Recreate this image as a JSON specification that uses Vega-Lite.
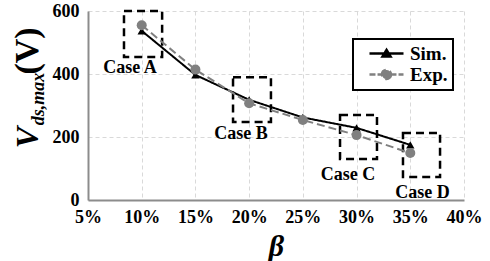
{
  "$schema": "https://vega.github.io/schema/vega-lite/v6.json",
  "width": 376,
  "height": 189,
  "autosize": {"type": "none"},
  "padding": {"left": 88, "top": 11, "right": 26, "bottom": 61},
  "background": "white",
  "config": {
    "view": {"stroke": null},
    "axis": {
      "labelFont": "Liberation Serif",
      "labelFontWeight": "bold",
      "labelFontSize": 18,
      "labelColor": "black",
      "labelOverlap": false,
      "labelFlush": false,
      "grid": true,
      "gridDash": [4, 3],
      "gridColor": "#d9d9d9",
      "gridWidth": 1,
      "domainColor": "#8c8c8c",
      "domainWidth": 2,
      "ticks": false
    }
  },
  "datasets": {
    "series": [
      {"beta": 10, "v": 537, "type": "Sim."},
      {"beta": 15, "v": 397, "type": "Sim."},
      {"beta": 20, "v": 318, "type": "Sim."},
      {"beta": 25, "v": 262, "type": "Sim."},
      {"beta": 30, "v": 229, "type": "Sim."},
      {"beta": 35, "v": 175, "type": "Sim."},
      {"beta": 10, "v": 555, "type": "Exp."},
      {"beta": 15, "v": 414, "type": "Exp."},
      {"beta": 20, "v": 307, "type": "Exp."},
      {"beta": 25, "v": 254, "type": "Exp."},
      {"beta": 30, "v": 206, "type": "Exp."},
      {"beta": 35, "v": 149, "type": "Exp."}
    ],
    "cases": [
      {"case": "Case A", "x1": 8.35, "x2": 11.9, "y1": 454, "y2": 600, "lx": 8.9, "ly": 419},
      {"case": "Case B", "x1": 18.5, "x2": 22.03, "y1": 248, "y2": 390, "lx": 19.24, "ly": 210},
      {"case": "Case C", "x1": 28.46, "x2": 31.9, "y1": 130, "y2": 270, "lx": 29.2, "ly": 79},
      {"case": "Case D", "x1": 34.32, "x2": 37.77, "y1": 73, "y2": 213, "lx": 36.14, "ly": 22}
    ],
    "one": [{}]
  },
  "layer": [
    {
      "data": {"name": "cases"},
      "mark": {"type": "rect", "filled": false, "stroke": "black", "strokeWidth": 2.5, "strokeDash": [8, 5]},
      "encoding": {
        "x": {"field": "x1", "type": "quantitative", "scale": {"domain": [5, 40], "nice": false},
          "axis": {"values": [5, 10, 15, 20, 25, 30, 35, 40], "labelExpr": "datum.value + '%'", "labelPadding": 8,
            "title": "β", "titleFont": "Liberation Serif", "titleFontStyle": "italic", "titleFontWeight": "bold", "titleFontSize": 30, "titleColor": "black", "titlePadding": 5}},
        "x2": {"field": "x2"},
        "y": {"field": "y1", "type": "quantitative", "scale": {"domain": [0, 600], "nice": false},
          "axis": {"values": [0, 200, 400, 600], "labelPadding": 9, "title": null}},
        "y2": {"field": "y2"}
      }
    },
    {
      "data": {"name": "series"},
      "mark": {"type": "line", "strokeWidth": 2},
      "encoding": {
        "x": {"field": "beta", "type": "quantitative"},
        "y": {"field": "v", "type": "quantitative"},
        "color": {"field": "type", "type": "nominal",
          "scale": {"domain": ["Sim.", "Exp."], "range": ["black", "#808080"]},
          "legend": {
            "orient": "none", "legendX": 265, "legendY": 28, "title": null,
            "fillColor": "white", "strokeColor": "black", "padding": 5,
            "labelFont": "Liberation Serif", "labelFontSize": 19, "labelFontWeight": "bold", "labelColor": "black",
            "labelOffset": 33, "rowPadding": 1, "symbolSize": 144,
            "encode": {
              "symbols": {"update": {
                "shape": {"signal": "datum.value === 'Sim.' ? 'M0.33,0H6M3.17,-0.6L3.84,0.5H2.5Z' : 'M0.33,0H1.33M1.67,0H2.33M4,0H4.83M5.17,0H6M3.92,0A0.75,0.75,0,1,1,2.42,0A0.75,0.75,0,1,1,3.92,0'"},
                "fill": {"signal": "datum.value === 'Sim.' ? 'black' : '#808080'"},
                "stroke": {"signal": "datum.value === 'Sim.' ? 'black' : '#808080'"},
                "strokeWidth": {"value": 2.5},
                "strokeDash": {"value": [1, 0]},
                "opacity": {"value": 1},
                "fillOpacity": {"value": 1}
              }},
              "legend": {"update": {"strokeWidth": {"value": 2}}}
            }
          }},
        "strokeDash": {"field": "type", "type": "nominal",
          "scale": {"domain": ["Sim.", "Exp."], "range": [[1, 0], [8, 4]]}, "legend": null}
      }
    },
    {
      "data": {"name": "series"},
      "transform": [{"filter": "datum.type === 'Sim.'"}],
      "mark": {"type": "point", "filled": true, "opacity": 1, "shape": "triangle-up", "size": 70, "color": "black"},
      "encoding": {
        "x": {"field": "beta", "type": "quantitative"},
        "y": {"field": "v", "type": "quantitative"}
      }
    },
    {
      "data": {"name": "series"},
      "transform": [{"filter": "datum.type === 'Exp.'"}],
      "mark": {"type": "point", "filled": true, "opacity": 1, "shape": "circle", "size": 100, "color": "#808080"},
      "encoding": {
        "x": {"field": "beta", "type": "quantitative"},
        "y": {"field": "v", "type": "quantitative"}
      }
    },
    {
      "data": {"name": "cases"},
      "mark": {"type": "text", "font": "Liberation Serif", "fontWeight": "bold", "fontSize": 18, "color": "black", "baseline": "middle", "align": "center"},
      "encoding": {
        "x": {"field": "lx", "type": "quantitative"},
        "y": {"field": "ly", "type": "quantitative"},
        "text": {"field": "case"}
      }
    },
    {
      "data": {"name": "one"},
      "mark": {"type": "text", "text": "V", "font": "Liberation Serif", "fontWeight": "bold", "fontStyle": "italic", "fontSize": 32, "color": "black", "angle": 270, "align": "center", "baseline": "alphabetic"},
      "encoding": {"x": {"datum": 0.35, "type": "quantitative"}, "y": {"datum": 198, "type": "quantitative"}}
    },
    {
      "data": {"name": "one"},
      "mark": {"type": "text", "text": "ds,max", "font": "Liberation Serif", "fontWeight": "bold", "fontStyle": "italic", "fontSize": 18, "color": "black", "angle": 270, "align": "center", "baseline": "alphabetic"},
      "encoding": {"x": {"datum": 0.9, "type": "quantitative"}, "y": {"datum": 321, "type": "quantitative"}}
    },
    {
      "data": {"name": "one"},
      "mark": {"type": "text", "text": "(V)", "font": "Liberation Serif", "fontWeight": "bold", "fontSize": 34, "color": "black", "angle": 270, "align": "center", "baseline": "alphabetic"},
      "encoding": {"x": {"datum": 0.35, "type": "quantitative"}, "y": {"datum": 473, "type": "quantitative"}}
    }
  ]
}
